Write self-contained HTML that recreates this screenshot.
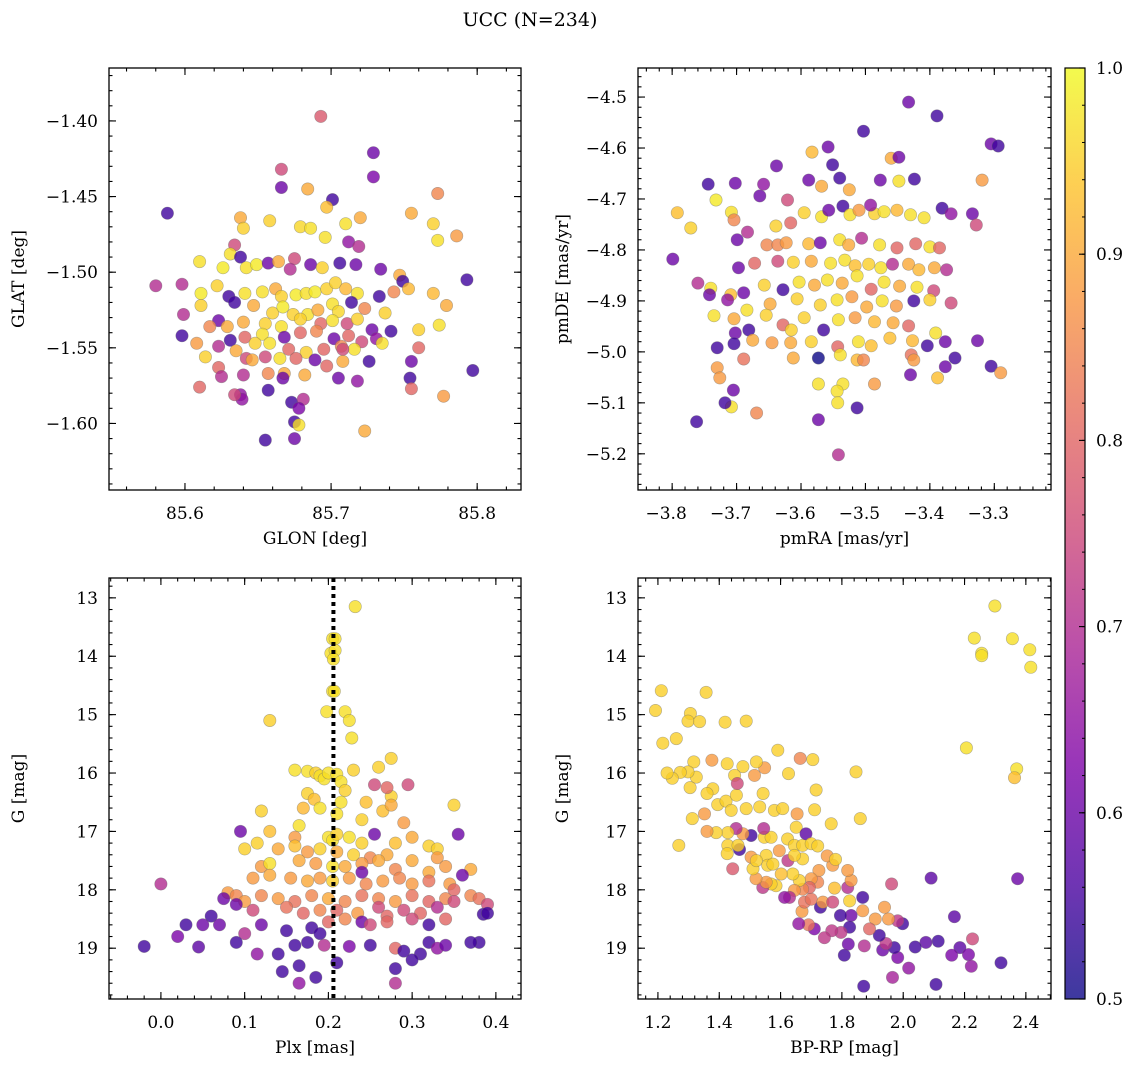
<!DOCTYPE html>
<html><head><meta charset="utf-8">
<style>
html,body{margin:0;padding:0;background:#fff;}
svg{display:block;font-family:"DejaVu Serif","Liberation Serif",serif;}
</style></head>
<body>
<svg id="fig" width="1136" height="1067" viewBox="0 0 1136 1067" xmlns="http://www.w3.org/2000/svg">
<defs>
<linearGradient id="plasmaGrad" x1="0" y1="1" x2="0" y2="0">
<stop offset="0" stop-color="#0d0887"/><stop offset="0.125" stop-color="#4c02a1"/><stop offset="0.25" stop-color="#7e03a8"/><stop offset="0.375" stop-color="#a92395"/><stop offset="0.5" stop-color="#cc4778"/><stop offset="0.625" stop-color="#e56b5d"/><stop offset="0.75" stop-color="#f89540"/><stop offset="0.875" stop-color="#fdc328"/><stop offset="1" stop-color="#f0f921"/>
</linearGradient>
</defs>
<text x="530" y="26" text-anchor="middle" font-size="19">UCC (N=234)</text>
</svg>
<script>
// ---- Panel 1: GLON / GLAT ----
const glon=[85.693,85.729,85.729,85.588,85.666,85.684,85.701,85.697,85.666,85.773,85.755,85.770,85.773,85.786,85.638,85.640,85.658,85.679,85.686,85.710,85.720,85.696,85.712,85.719,85.634,85.631,85.638,85.610,85.626,85.642,85.649,85.657,85.664,85.675,85.672,85.686,85.694,85.706,85.717,85.734,85.747,85.749,85.580,85.598,85.611,85.622,85.630,85.641,85.653,85.662,85.666,85.676,85.683,85.689,85.697,85.703,85.710,85.718,85.733,85.743,85.753,85.770,85.611,85.623,85.634,85.647,85.660,85.667,85.674,85.684,85.691,85.701,85.705,85.714,85.723,85.737,85.779,85.599,85.640,85.655,85.666,85.679,85.693,85.701,85.711,85.718,85.728,85.741,85.760,85.774,85.598,85.617,85.629,85.641,85.653,85.668,85.679,85.690,85.702,85.712,85.721,85.731,85.623,85.631,85.635,85.648,85.658,85.671,85.683,85.695,85.707,85.716,85.735,85.608,85.614,85.623,85.642,85.646,85.655,85.665,85.676,85.689,85.697,85.708,85.726,85.755,85.760,85.625,85.640,85.657,85.668,85.682,85.705,85.718,85.754,85.755,85.610,85.638,85.657,85.639,85.673,85.634,85.681,85.777,85.678,85.655,85.675,85.675,85.678,85.723,85.667,85.708,85.793,85.797];
const glat=[-1.397,-1.421,-1.437,-1.461,-1.444,-1.445,-1.452,-1.457,-1.432,-1.448,-1.461,-1.468,-1.479,-1.476,-1.464,-1.471,-1.466,-1.470,-1.471,-1.468,-1.464,-1.477,-1.480,-1.483,-1.482,-1.488,-1.490,-1.493,-1.497,-1.497,-1.495,-1.494,-1.493,-1.491,-1.498,-1.495,-1.497,-1.494,-1.495,-1.498,-1.502,-1.506,-1.509,-1.508,-1.514,-1.509,-1.516,-1.514,-1.513,-1.511,-1.516,-1.515,-1.514,-1.513,-1.511,-1.507,-1.511,-1.514,-1.516,-1.513,-1.511,-1.514,-1.522,-1.532,-1.520,-1.522,-1.527,-1.523,-1.528,-1.528,-1.525,-1.521,-1.526,-1.520,-1.524,-1.527,-1.522,-1.528,-1.533,-1.534,-1.536,-1.531,-1.534,-1.532,-1.534,-1.531,-1.538,-1.539,-1.538,-1.535,-1.542,-1.536,-1.536,-1.543,-1.541,-1.543,-1.540,-1.539,-1.544,-1.542,-1.546,-1.544,-1.549,-1.545,-1.552,-1.547,-1.547,-1.551,-1.553,-1.551,-1.549,-1.551,-1.547,-1.547,-1.556,-1.563,-1.557,-1.558,-1.556,-1.557,-1.557,-1.558,-1.562,-1.559,-1.559,-1.559,-1.550,-1.569,-1.568,-1.567,-1.567,-1.568,-1.570,-1.572,-1.570,-1.577,-1.576,-1.581,-1.578,-1.584,-1.586,-1.581,-1.584,-1.582,-1.590,-1.611,-1.599,-1.610,-1.601,-1.605,-1.570,-1.551,-1.505,-1.565];
const prob1=[0.78,0.6,0.62,0.55,0.6,0.9,0.55,0.93,0.75,0.85,0.9,0.95,0.97,0.88,0.9,0.95,0.95,0.96,0.97,0.97,0.9,0.97,0.65,0.7,0.75,0.97,0.55,0.97,0.98,0.97,0.98,0.6,0.9,0.75,0.7,0.6,0.95,0.55,0.6,0.6,0.9,0.55,0.7,0.7,0.98,0.95,0.55,0.97,0.97,0.9,0.95,0.98,0.97,0.98,0.95,0.95,0.92,0.97,0.55,0.85,0.92,0.92,0.95,0.6,0.55,0.9,0.95,0.98,0.95,0.97,0.9,0.97,0.96,0.55,0.85,0.95,0.9,0.7,0.9,0.95,0.97,0.95,0.8,0.97,0.75,0.95,0.6,0.55,0.95,0.97,0.55,0.85,0.9,0.8,0.97,0.6,0.8,0.85,0.6,0.8,0.75,0.65,0.7,0.55,0.9,0.95,0.97,0.8,0.95,0.8,0.85,0.97,0.97,0.88,0.95,0.8,0.75,0.9,0.75,0.97,0.8,0.6,0.8,0.9,0.55,0.6,0.8,0.7,0.7,0.85,0.9,0.9,0.6,0.65,0.55,0.8,0.8,0.65,0.55,0.65,0.55,0.75,0.7,0.88,0.62,0.55,0.55,0.6,0.97,0.9,0.6,0.75,0.55,0.55];

// ---- Panel 2: pmRA / pmDE ----
const pmra=[-3.433,-3.389,-3.503,-3.305,-3.294,-3.558,-3.551,-3.583,-3.460,-3.448,-3.638,-3.588,-3.540,-3.319,-3.744,-3.658,-3.477,-3.424,-3.525,-3.568,-3.448,-3.792,-3.771,-3.732,-3.799,-3.702,-3.708,-3.704,-3.664,-3.621,-3.616,-3.639,-3.595,-3.568,-3.557,-3.535,-3.524,-3.510,-3.486,-3.492,-3.471,-3.451,-3.430,-3.409,-3.381,-3.367,-3.334,-3.328,-3.699,-3.683,-3.653,-3.636,-3.623,-3.588,-3.570,-3.540,-3.526,-3.506,-3.478,-3.451,-3.422,-3.400,-3.385,-3.697,-3.672,-3.636,-3.612,-3.584,-3.554,-3.532,-3.516,-3.495,-3.476,-3.458,-3.433,-3.417,-3.393,-3.374,-3.760,-3.740,-3.709,-3.689,-3.657,-3.628,-3.603,-3.579,-3.559,-3.536,-3.513,-3.491,-3.471,-3.447,-3.420,-3.394,-3.742,-3.714,-3.684,-3.648,-3.606,-3.570,-3.544,-3.521,-3.498,-3.474,-3.452,-3.425,-3.400,-3.367,-3.735,-3.704,-3.681,-3.654,-3.628,-3.595,-3.565,-3.542,-3.516,-3.486,-3.457,-3.433,-3.615,-3.702,-3.704,-3.675,-3.645,-3.616,-3.584,-3.543,-3.511,-3.491,-3.462,-3.427,-3.391,-3.404,-3.376,-3.326,-3.730,-3.689,-3.612,-3.573,-3.539,-3.513,-3.429,-3.425,-3.361,-3.305,-3.290,-3.730,-3.726,-3.705,-3.503,-3.535,-3.573,-3.544,-3.486,-3.376,-3.388,-3.430,-3.708,-3.669,-3.718,-3.543,-3.513,-3.573,-3.762,-3.542];
const pmde=[-4.510,-4.537,-4.567,-4.592,-4.596,-4.598,-4.633,-4.608,-4.620,-4.618,-4.635,-4.663,-4.659,-4.663,-4.671,-4.671,-4.663,-4.661,-4.682,-4.675,-4.665,-4.727,-4.757,-4.702,-4.818,-4.669,-4.726,-4.741,-4.694,-4.702,-4.747,-4.753,-4.727,-4.735,-4.722,-4.714,-4.731,-4.722,-4.729,-4.712,-4.725,-4.722,-4.731,-4.737,-4.718,-4.729,-4.729,-4.751,-4.780,-4.765,-4.790,-4.790,-4.786,-4.788,-4.786,-4.780,-4.790,-4.777,-4.790,-4.796,-4.788,-4.794,-4.796,-4.835,-4.826,-4.822,-4.824,-4.822,-4.826,-4.820,-4.831,-4.828,-4.835,-4.828,-4.828,-4.839,-4.835,-4.839,-4.865,-4.875,-4.888,-4.884,-4.869,-4.878,-4.863,-4.869,-4.859,-4.865,-4.851,-4.877,-4.863,-4.871,-4.873,-4.880,-4.888,-4.898,-4.918,-4.906,-4.896,-4.908,-4.898,-4.892,-4.912,-4.900,-4.910,-4.900,-4.898,-4.904,-4.929,-4.935,-4.957,-4.928,-4.947,-4.933,-4.957,-4.937,-4.933,-4.941,-4.943,-4.949,-4.957,-4.963,-4.984,-4.977,-4.982,-4.982,-4.980,-4.990,-4.980,-4.988,-4.973,-4.978,-4.963,-4.988,-4.980,-4.978,-4.992,-5.014,-5.012,-5.012,-5.006,-5.016,-5.006,-5.016,-5.012,-5.028,-5.041,-5.031,-5.051,-5.075,-5.016,-5.063,-5.063,-5.077,-5.063,-5.029,-5.051,-5.045,-5.108,-5.120,-5.100,-5.100,-5.110,-5.133,-5.137,-5.202];
const prob2=[0.6,0.55,0.55,0.6,0.55,0.6,0.55,0.92,0.9,0.6,0.6,0.6,0.55,0.88,0.55,0.65,0.6,0.55,0.9,0.9,0.97,0.93,0.95,0.98,0.6,0.6,0.97,0.85,0.6,0.75,0.8,0.95,0.95,0.97,0.6,0.55,0.97,0.88,0.95,0.65,0.97,0.92,0.97,0.97,0.55,0.65,0.6,0.75,0.6,0.7,0.85,0.85,0.88,0.92,0.6,0.97,0.9,0.7,0.97,0.8,0.8,0.97,0.8,0.6,0.8,0.75,0.95,0.9,0.97,0.97,0.93,0.95,0.97,0.7,0.9,0.92,0.9,0.7,0.7,0.97,0.93,0.6,0.95,0.55,0.97,0.9,0.97,0.9,0.97,0.8,0.97,0.9,0.97,0.75,0.6,0.65,0.97,0.9,0.95,0.95,0.97,0.88,0.9,0.97,0.88,0.55,0.95,0.75,0.97,0.9,0.55,0.95,0.8,0.95,0.55,0.97,0.88,0.92,0.9,0.8,0.95,0.6,0.55,0.9,0.88,0.9,0.95,0.8,0.97,0.93,0.93,0.92,0.97,0.55,0.6,0.6,0.55,0.82,0.9,0.5,0.97,0.92,0.82,0.88,0.55,0.55,0.88,0.88,0.88,0.6,0.85,0.97,0.97,0.97,0.88,0.6,0.93,0.6,0.97,0.85,0.55,0.97,0.55,0.6,0.55,0.7];

// ---- Panel 3: Plx / G ----
const plx=[0.232,0.205,0.208,0.203,0.208,0.206,0.205,0.207,0.22,0.225,0.198,0.13,0.275,0.228,0.16,0.175,0.185,0.19,0.195,0.2,0.21,0.215,0.23,0.26,0.22,0.175,0.183,0.215,0.245,0.275,0.295,0.12,0.17,0.19,0.265,0.29,0.275,0.35,0.21,0.24,0.255,0.27,0.095,0.1,0.115,0.13,0.16,0.165,0.2,0.205,0.21,0.225,0.24,0.255,0.28,0.3,0.32,0.33,0.355,0.14,0.16,0.175,0.19,0.21,0.23,0.25,0.27,0.3,0.33,0.12,0.13,0.165,0.185,0.205,0.22,0.24,0.26,0.28,0.32,0.34,0.37,0.11,0.13,0.155,0.175,0.19,0.205,0.225,0.245,0.265,0.285,0.3,0.32,0.345,0.36,0.24,0.08,0.09,0.1,0.12,0.14,0.16,0.18,0.2,0.22,0.24,0.26,0.28,0.3,0.32,0.34,0.37,0.38,0.39,0.35,0.075,0.09,0.11,0.15,0.17,0.19,0.21,0.235,0.26,0.27,0.29,0.31,0.33,0.35,0.385,0.06,0.07,0.05,0.03,0.02,0.045,-0.02,0.0,0.12,0.1,0.09,0.15,0.18,0.2,0.22,0.24,0.25,0.27,0.3,0.32,0.34,0.115,0.14,0.16,0.175,0.195,0.225,0.19,0.25,0.28,0.29,0.31,0.32,0.33,0.34,0.38,0.39,0.37,0.165,0.145,0.21,0.28,0.165,0.185,0.28,0.3];
const gmag3=[13.15,13.7,13.7,13.95,13.9,14.05,14.6,14.6,14.95,15.1,14.95,15.1,15.75,15.4,15.95,15.97,16.0,16.05,16.1,16.0,16.02,16.15,15.95,15.9,16.3,16.35,16.45,16.5,16.5,16.4,16.2,16.65,16.6,16.6,16.65,16.85,16.55,16.55,16.7,16.8,16.2,16.25,17.0,17.3,17.2,17.0,17.1,16.9,17.1,17.15,17.05,17.1,17.2,17.05,17.2,17.1,17.25,17.3,17.05,17.3,17.25,17.35,17.3,17.35,17.4,17.45,17.4,17.5,17.45,17.6,17.55,17.5,17.55,17.6,17.6,17.55,17.5,17.65,17.7,17.6,17.65,17.8,17.75,17.8,17.85,17.8,17.85,17.8,17.9,17.85,17.8,17.9,17.85,17.9,17.75,17.7,18.05,18.1,18.2,18.1,18.15,18.2,18.1,18.15,18.2,18.1,18.15,18.2,18.1,18.2,18.15,18.1,18.15,18.25,18.0,18.15,18.25,18.35,18.3,18.4,18.35,18.35,18.4,18.3,18.45,18.35,18.4,18.3,18.2,18.42,18.45,18.6,18.6,18.6,18.8,18.98,18.97,17.9,18.6,18.75,18.9,18.7,18.65,18.55,18.5,18.55,18.6,18.55,18.5,18.6,18.5,19.1,19.1,18.95,18.9,18.95,18.97,18.75,18.95,19.0,19.05,19.1,18.9,19.0,18.95,18.9,18.4,18.9,19.3,19.4,19.25,19.35,19.6,19.5,19.6,19.2];
const prob3=[0.97,0.97,0.97,0.97,0.97,0.97,0.97,0.97,0.97,0.97,0.97,0.95,0.95,0.97,0.97,0.97,0.95,0.97,0.97,0.97,0.97,0.97,0.95,0.95,0.95,0.95,0.93,0.97,0.93,0.95,0.75,0.95,0.92,0.97,0.93,0.88,0.9,0.95,0.97,0.95,0.75,0.8,0.6,0.95,0.95,0.93,0.88,0.97,0.97,0.97,0.95,0.97,0.95,0.6,0.93,0.9,0.95,0.95,0.6,0.9,0.93,0.88,0.95,0.9,0.95,0.85,0.9,0.9,0.88,0.88,0.97,0.9,0.88,0.97,0.9,0.88,0.9,0.85,0.9,0.88,0.9,0.88,0.9,0.88,0.9,0.88,0.95,0.88,0.85,0.88,0.85,0.88,0.82,0.88,0.6,0.6,0.88,0.85,0.88,0.85,0.88,0.82,0.85,0.9,0.85,0.82,0.85,0.88,0.82,0.8,0.85,0.85,0.82,0.75,0.8,0.6,0.6,0.75,0.82,0.8,0.85,0.8,0.88,0.75,0.8,0.75,0.8,0.7,0.75,0.55,0.55,0.6,0.6,0.55,0.62,0.58,0.55,0.7,0.6,0.7,0.55,0.55,0.55,0.8,0.85,0.6,0.75,0.8,0.75,0.55,0.8,0.65,0.55,0.55,0.55,0.7,0.62,0.55,0.55,0.8,0.55,0.55,0.55,0.65,0.6,0.55,0.55,0.55,0.55,0.55,0.55,0.55,0.65,0.55,0.7,0.55,0.55];

// ---- Panel 4: BP-RP / G ----
const bprp=[2.299,2.232,2.356,2.413,2.256,2.256,2.416,2.206,2.370,2.363,2.373,2.091,1.962,2.226,2.167,2.114,2.074,2.039,2.185,2.158,2.213,2.222,2.319,2.107,1.871,1.965,2.018,1.982,1.971,1.933,1.944,1.808,1.821,1.873,1.922,1.998,1.982,1.952,1.939,1.909,1.890,1.868,1.868,1.830,1.795,1.825,1.797,1.767,1.743,1.710,1.691,1.659,1.730,1.670,1.678,1.700,1.738,1.770,1.825,1.819,1.776,1.830,1.819,1.770,1.752,1.779,1.725,1.721,1.700,1.694,1.672,1.661,1.645,1.629,1.613,1.640,1.624,1.602,1.585,1.569,1.542,1.553,1.520,1.510,1.504,1.553,1.521,1.558,1.575,1.596,1.623,1.645,1.672,1.651,1.683,1.700,1.721,1.672,1.645,1.547,1.569,1.545,1.504,1.477,1.455,1.466,1.428,1.461,1.426,1.444,1.428,1.390,1.360,1.268,1.312,1.352,1.395,1.422,1.439,1.456,1.488,1.532,1.543,1.580,1.607,1.654,1.711,1.765,1.860,1.716,1.626,1.515,1.548,1.521,1.477,1.450,1.426,1.459,1.379,1.360,1.305,1.325,1.317,1.298,1.273,1.247,1.230,1.376,1.216,1.260,1.192,1.211,1.357,1.306,1.298,1.336,1.419,1.488,1.591,1.664,1.705,1.846];
const gmag4=[13.14,13.69,13.70,13.89,13.95,13.99,14.19,15.57,15.93,16.08,17.81,17.80,17.90,18.84,18.46,18.88,18.90,18.98,18.99,19.12,19.11,19.31,19.25,19.62,19.65,19.50,19.34,19.16,18.99,19.03,18.92,19.12,18.93,18.96,18.78,18.58,18.53,18.50,18.30,18.50,18.67,18.36,18.13,18.44,18.44,18.64,18.73,18.70,18.82,18.67,18.60,18.58,18.30,18.37,18.21,18.16,18.21,18.21,18.19,17.96,17.97,17.84,17.67,17.58,17.42,17.48,17.67,17.87,17.81,17.96,17.99,17.84,18.01,18.13,18.13,17.73,17.50,17.73,17.93,17.90,17.96,17.87,17.81,17.64,17.44,17.41,17.50,17.58,17.56,17.33,17.13,17.24,17.24,16.93,17.04,17.21,17.25,17.47,17.41,17.10,17.10,16.95,17.07,17.04,16.95,17.31,17.24,17.24,17.38,17.64,17.02,17.02,17.00,17.24,16.78,16.70,16.54,16.48,16.64,16.38,16.61,16.58,16.35,16.64,16.61,16.70,16.63,16.87,16.78,16.29,16.01,16.04,15.91,15.81,15.89,16.04,15.84,16.18,16.27,16.35,16.25,16.07,15.81,15.98,15.99,16.09,16.00,15.78,15.49,15.41,14.93,14.59,14.62,14.98,15.11,15.12,15.13,15.11,15.61,15.75,15.77,15.98];
const prob4=[0.97,0.97,0.97,0.97,0.97,0.97,0.97,0.97,0.97,0.93,0.6,0.58,0.75,0.75,0.58,0.55,0.58,0.55,0.58,0.62,0.62,0.65,0.55,0.55,0.55,0.68,0.65,0.62,0.55,0.6,0.72,0.55,0.6,0.7,0.55,0.55,0.72,0.88,0.88,0.88,0.8,0.88,0.55,0.6,0.55,0.55,0.72,0.72,0.72,0.62,0.82,0.65,0.55,0.88,0.82,0.82,0.88,0.75,0.95,0.7,0.93,0.88,0.88,0.88,0.88,0.95,0.88,0.85,0.88,0.8,0.85,0.95,0.88,0.7,0.65,0.95,0.72,0.93,0.95,0.95,0.72,0.88,0.88,0.95,0.88,0.95,0.95,0.95,0.95,0.88,0.95,0.95,0.95,0.95,0.58,0.95,0.95,0.95,0.95,0.95,0.95,0.7,0.55,0.88,0.7,0.55,0.95,0.95,0.95,0.78,0.95,0.95,0.88,0.95,0.95,0.88,0.95,0.95,0.95,0.95,0.95,0.95,0.95,0.95,0.95,0.88,0.95,0.95,0.95,0.95,0.95,0.88,0.88,0.95,0.95,0.95,0.95,0.75,0.95,0.95,0.95,0.95,0.95,0.95,0.95,0.95,0.95,0.88,0.95,0.95,0.95,0.95,0.95,0.95,0.95,0.95,0.95,0.95,0.95,0.85,0.95,0.95];

const cbTicks=[0.5,0.6,0.7,0.8,0.9,1.0];
const plxLine=0.206;

const NS='http://www.w3.org/2000/svg';
const svg=document.getElementById('fig');
function el(tag,attrs,parent){const e=document.createElementNS(NS,tag);for(const k in attrs)e.setAttribute(k,attrs[k]);(parent||svg).appendChild(e);return e;}

const stops=[[13,8,135],[76,2,161],[126,3,168],[169,35,149],[204,71,120],[229,107,93],[248,149,64],[253,195,40],[240,249,33]];
function plasma(v){let t=(v-0.5)/0.5;t=Math.max(0,Math.min(1,t));const f=t*8;const i=Math.min(7,Math.floor(f));const r=f-i;const a=stops[i],b=stops[i+1];return 'rgb('+[0,1,2].map(k=>Math.round(a[k]+(b[k]-a[k])*r)).join(',')+')';}
function fmt(v,d){const s=Math.abs(v).toFixed(d);return (v<-1e-9?'\u2212':'')+s;}

const FS=17;
function panel(cfg){
  const g=el('g',{});
  
  
  const X=v=>cfg.x0+(v-cfg.xd[0])/(cfg.xd[1]-cfg.xd[0])*(cfg.x1-cfg.x0);
  const Y=v=>cfg.y0+(v-cfg.yd[0])/(cfg.yd[1]-cfg.yd[0])*(cfg.y1-cfg.y0);
  const pg=el('g',{},g);
  
  
  for(let i=0;i<cfg.xs.length;i++){
    const c=el('circle',{cx:X(cfg.xs[i]).toFixed(1),cy:Y(cfg.ys[i]).toFixed(1),r:6.2,fill:plasma(cfg.ps[i]),'fill-opacity':0.8,stroke:'#6a6a6a','stroke-opacity':0.5,'stroke-width':0.6},pg);
    
    
  }
  if(cfg.vline!==undefined){
    const l=el('line',{x1:X(cfg.vline),x2:X(cfg.vline),y1:cfg.y0,y2:cfg.y1,stroke:'#000','stroke-width':4,'stroke-dasharray':'4,4'},g);
    
    
  }
  const fr=el('rect',{x:cfg.x0,y:cfg.y0,width:cfg.x1-cfg.x0,height:cfg.y1-cfg.y0,fill:'none',stroke:'#000','stroke-width':1.3},g);
  
  
  const tg=el('g',{stroke:'#000','stroke-width':1.1},g);
  
  
  const lo=Math.min(cfg.xd[0],cfg.xd[1]),hi=Math.max(cfg.xd[0],cfg.xd[1]);
  for(let k=Math.ceil(lo/cfg.xmin-1e-6);k*cfg.xmin<=hi+1e-9;k++){const x=X(k*cfg.xmin);
    el('line',{x1:x,x2:x,y1:cfg.y1,y2:cfg.y1-3.5},tg);el('line',{x1:x,x2:x,y1:cfg.y0,y2:cfg.y0+3.5},tg);}
  for(let k=Math.ceil(lo/cfg.xmaj-1e-6);k*cfg.xmaj<=hi+1e-9;k++){const v=k*cfg.xmaj;const x=X(v);
    el('line',{x1:x,x2:x,y1:cfg.y1,y2:cfg.y1-7},tg);el('line',{x1:x,x2:x,y1:cfg.y0,y2:cfg.y0+7},tg);
    const t=el('text',{x:x-(v<-1e-9?6:0),y:cfg.y1+29,'text-anchor':'middle','font-size':FS},g);t.textContent=fmt(v,cfg.xdec);
    
    }
  const ylo=Math.min(cfg.yd[0],cfg.yd[1]),yhi=Math.max(cfg.yd[0],cfg.yd[1]);
  for(let k=Math.ceil(ylo/cfg.ymin-1e-6);k*cfg.ymin<=yhi+1e-9;k++){const y=Y(k*cfg.ymin);
    el('line',{x1:cfg.x0,x2:cfg.x0+3.5,y1:y,y2:y},tg);el('line',{x1:cfg.x1,x2:cfg.x1-3.5,y1:y,y2:y},tg);}
  for(let k=Math.ceil(ylo/cfg.ymaj-1e-6);k*cfg.ymaj<=yhi+1e-9;k++){const v=k*cfg.ymaj;const y=Y(v);
    el('line',{x1:cfg.x0,x2:cfg.x0+7,y1:y,y2:y},tg);el('line',{x1:cfg.x1,x2:cfg.x1-7,y1:y,y2:y},tg);
    const t=el('text',{x:cfg.x0-11,y:y+6,'text-anchor':'end','font-size':FS},g);t.textContent=fmt(v,cfg.ydec);
    
    }
  const xl=el('text',{x:(cfg.x0+cfg.x1)/2,y:cfg.y1+54,'text-anchor':'middle','font-size':FS},g);xl.textContent=cfg.xlabel;
  
  
  const yx=cfg.ylx, yc=(cfg.y0+cfg.y1)/2;
  const yl=el('text',{x:yx,y:yc,'text-anchor':'middle','font-size':FS,transform:'rotate(-90 '+yx+' '+yc+')'},g);yl.textContent=cfg.ylabel;
  
  
}

panel({name:'glon-glat-panel',x0:109,x1:521,y0:68,y1:490,xd:[85.548,85.830],yd:[-1.365,-1.644],xmaj:0.1,xmin:0.02,ymaj:0.05,ymin:0.01,xdec:1,ydec:2,xs:glon,ys:glat,ps:prob1,xlabel:'GLON [deg]',ylabel:'GLAT [deg]',ylx:24});
panel({name:'pm-panel',x0:638,x1:1051,y0:68,y1:490,xd:[-3.853,-3.212],yd:[-4.443,-5.271],xmaj:0.1,xmin:0.02,ymaj:0.1,ymin:0.02,xdec:1,ydec:1,xs:pmra,ys:pmde,ps:prob2,xlabel:'pmRA [mas/yr]',ylabel:'pmDE [mas/yr]',ylx:568});
panel({name:'plx-g-panel',x0:109,x1:521,y0:578,y1:999,xd:[-0.062,0.430],yd:[12.66,19.87],xmaj:0.1,xmin:0.02,ymaj:1,ymin:0.2,xdec:1,ydec:0,xs:plx,ys:gmag3,ps:prob3,vline:plxLine,xlabel:'Plx [mas]',ylabel:'G [mag]',ylx:24});
panel({name:'cmd-panel',x0:638,x1:1051,y0:578,y1:999,xd:[1.135,2.482],yd:[12.66,19.87],xmaj:0.2,xmin:0.04,ymaj:1,ymin:0.2,xdec:1,ydec:0,xs:bprp,ys:gmag4,ps:prob4,xlabel:'BP-RP [mag]',ylabel:'G [mag]',ylx:568});

const cb=el('g',{});


const cbx=1065,cbw=20,cby0=68,cby1=999;
const CY=v=>cby1-(v-0.5)/0.5*(cby1-cby0);
el('rect',{x:cbx,y:cby0,width:cbw,height:cby1-cby0,fill:'url(#plasmaGrad)','fill-opacity':0.8},cb);
el('rect',{x:cbx,y:cby0,width:cbw,height:cby1-cby0,fill:'none',stroke:'#000','stroke-width':1.2},cb);
for(let k=25;k<=50;k++){const y=CY(k*0.02);el('line',{x1:cbx+cbw,x2:cbx+cbw-3,y1:y,y2:y,stroke:'#000','stroke-width':1},cb);}
cbTicks.forEach(v=>{const y=CY(v);el('line',{x1:cbx+cbw,x2:cbx+cbw-6,y1:y,y2:y,stroke:'#000','stroke-width':1.1},cb);
  const t=el('text',{x:1096,y:y+6,'font-size':FS},cb);t.textContent=v.toFixed(1);
  
  });
</script>
</body></html>
